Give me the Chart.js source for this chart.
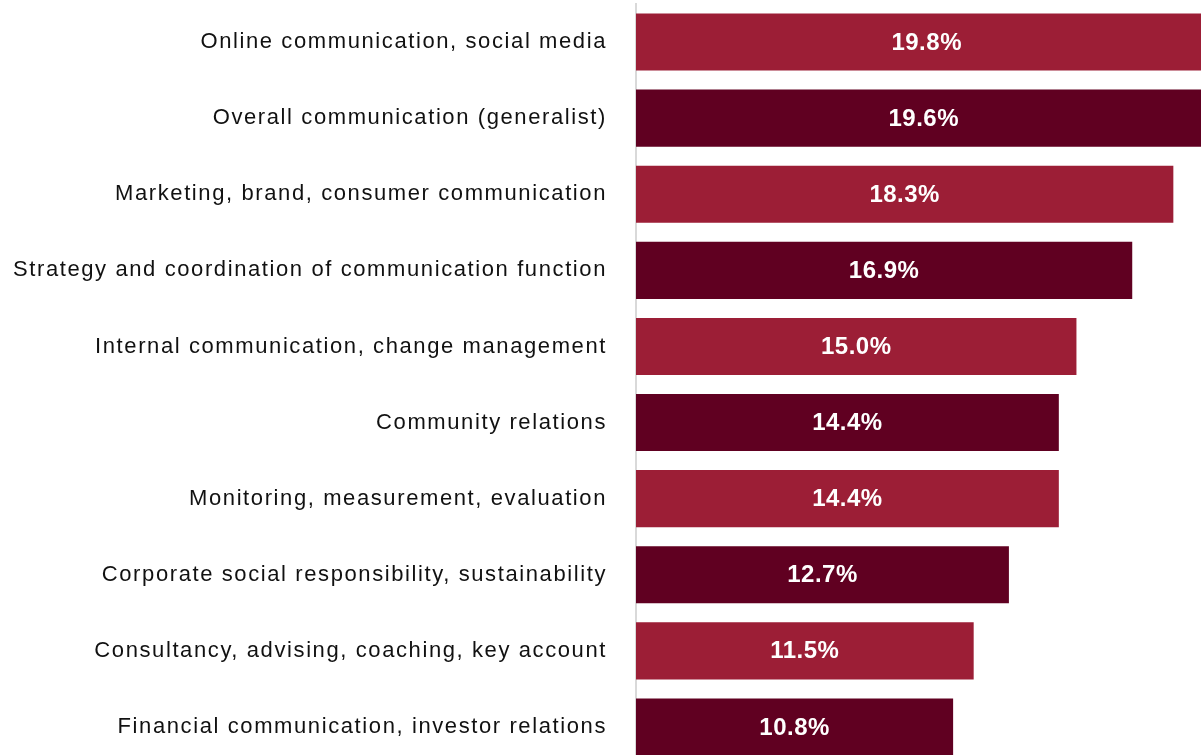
<!DOCTYPE html>
<html><head><meta charset="utf-8">
<script src="https://cdn.jsdelivr.net/npm/chart.js@4"></script>
<style>
html,body{margin:0;padding:0;overflow:hidden;background:#fff;width:1201px;height:755px}
#wrap{position:absolute;left:0;top:0;width:1240px;height:766px}
</style></head><body>
<div id="wrap"><canvas id="c"></canvas></div>
<script>
const categories = [
  "Online communication, social media",
  "Overall communication (generalist)",
  "Marketing, brand, consumer communication",
  "Strategy and coordination of communication function",
  "Internal communication, change management",
  "Community relations",
  "Monitoring, measurement, evaluation",
  "Corporate social responsibility, sustainability",
  "Consultancy, advising, coaching, key account",
  "Financial communication, investor relations"
];
const values = [19.8, 19.6, 18.3, 16.9, 15.0, 14.4, 14.4, 12.7, 11.5, 10.8];
const valueLabels = ["19.8%", "19.6%", "18.3%", "16.9%", "15.0%", "14.4%", "14.4%", "12.7%", "11.5%", "10.8%"];

const LIGHT = '#9C1E36', DARK = '#600021';

const spacingPlugin = {
  id: 'spacing',
  beforeDraw(chart) { chart.ctx.letterSpacing = '1.6px'; },
  beforeDatasetsDraw(chart) { chart.ctx.letterSpacing = '0px'; }
};

const valuePlugin = {
  id: 'values',
  afterDatasetsDraw(chart) {
    const ctx = chart.ctx;
    const xs = chart.scales.x;
    const meta = chart.getDatasetMeta(0);
    ctx.save();
    ctx.letterSpacing = '0.5px';
    ctx.fillStyle = '#ffffff';
    ctx.font = 'bold 24px "Liberation Sans", Arial, sans-serif';
    ctx.textAlign = 'center';
    ctx.textBaseline = 'middle';
    meta.data.forEach((bar, i) => {
      const x0 = xs.getPixelForValue(0);
      const x1 = xs.getPixelForValue(values[i]);
      ctx.fillText(valueLabels[i], (x0 + x1) / 2, bar.y + 1);
    });
    ctx.restore();
  }
};

new Chart(document.getElementById('c'), {
  type: 'bar',
  data: {
    labels: categories,
    datasets: [{
      data: values,
      backgroundColor: (c) => (c.dataIndex % 2 === 0 ? LIGHT : DARK),
      borderWidth: 0,
      categoryPercentage: 1.0,
      barPercentage: 0.75
    }]
  },
  options: {
    indexAxis: 'y',
    responsive: true,
    maintainAspectRatio: false,
    animation: false,
    layout: { padding: { top: 4, bottom: 1, left: 0, right: 0 } },
    plugins: { legend: { display: false }, tooltip: { enabled: false } },
    scales: {
      x: { display: false, min: 0, max: 20.57 },
      y: {
        grid: { display: false, drawTicks: false },
        border: { display: true, color: '#d9d9d9', width: 2 },
        ticks: {
          color: '#111111',
          padding: 29,
          font: { family: '"Liberation Sans", Arial, sans-serif', size: 22 }
        },
        afterFit(scale) {
          scale.width = 636;
          scale.paddingTop = 0;
          scale.paddingBottom = 0;
        }
      }
    }
  },
  plugins: [spacingPlugin, valuePlugin]
});
</script>
</body></html>
